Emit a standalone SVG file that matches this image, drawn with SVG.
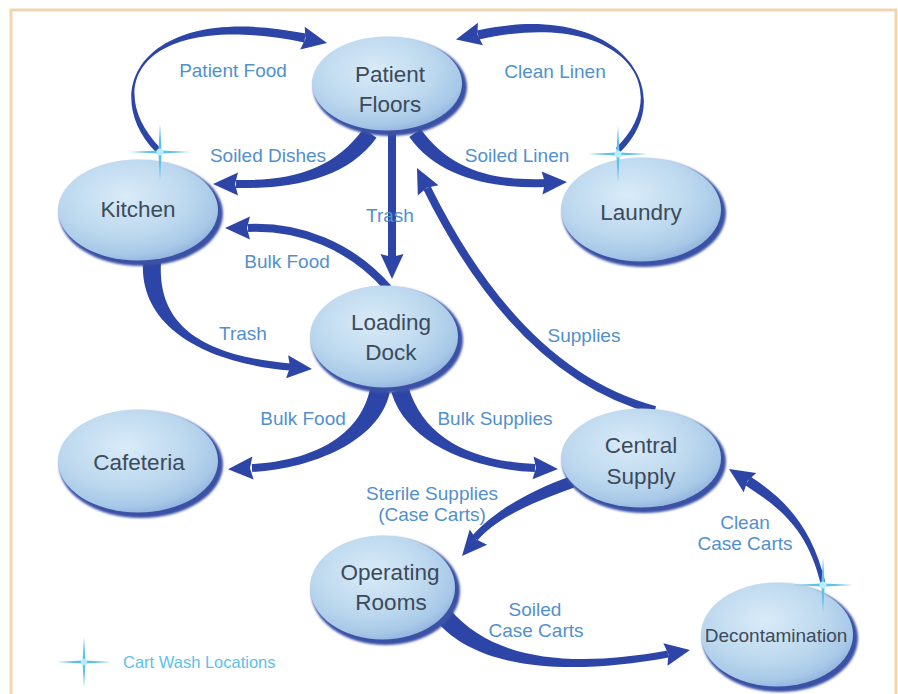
<svg xmlns="http://www.w3.org/2000/svg" width="898" height="694" viewBox="0 0 898 694">
<defs>
<radialGradient id="face" cx="0.42" cy="0.36" r="0.66">
<stop offset="0" stop-color="#d9ebf8"/>
<stop offset="0.6" stop-color="#bcd8ee"/>
<stop offset="0.88" stop-color="#a7c8e7"/>
<stop offset="1" stop-color="#94b6df"/>
</radialGradient>
<filter id="soft" x="-10%" y="-10%" width="120%" height="120%"><feGaussianBlur stdDeviation="1.2"/></filter>
<path id="head" d="M0,0 L-25,-11.5 L-22,0 L-25,11.5 Z"/>
<g id="star">
<path d="M0,-28 L1.6,-1.6 L30,0 L1.6,1.6 L0,28 L-1.6,1.6 L-30,0 L-1.6,-1.6 Z" fill="#5cc2ea"/>
<circle r="3.5" fill="#b8ecff"/>
</g>
<style>
.rim{fill:#3a51a5;filter:url(#soft)}
.face{fill:url(#face)}
.nt{font-family:"Liberation Sans",Arial,sans-serif;font-size:22.5px;fill:#3c4a5b;text-anchor:middle}
.lb{font-family:"Liberation Sans",Arial,sans-serif;font-size:19px;fill:#5290cd;text-anchor:middle}
.arr{fill:#2c45a6}
.arrs{fill:none;stroke:#2c45a6;stroke-width:8}
</style>
</defs>
<rect x="0" y="0" width="898" height="694" fill="#ffffff"/>
<rect x="11" y="10" width="885" height="700" fill="#ffffff" stroke="#efd6b0" stroke-width="3"/>

<g id="connectors">
<path class="arr" d="M160.2,147.9 C102.2,87.9 139.1,9.4 304.1,42.4 L305.9,33.6 C140.9,0.6 97.8,92.1 155.8,152.1 Z"/>
<use href="#head" class="arr" transform="translate(327,43) rotate(11.3)"/>
<path class="arr" d="M363.5,128.4 C333.5,170.4 290.1,181 236.1,180 L235.9,188 C289.9,189 346.5,179.7 376.5,137.7 Z"/>
<use href="#head" class="arr" transform="translate(213,184) rotate(180)"/>
<path class="arr" d="M620.1,152.2 C682.1,92.2 619,-1.4 477,30.6 L479,39.4 C621,7.4 677.9,87.9 615.9,147.9 Z"/>
<use href="#head" class="arr" transform="translate(456,39.5) rotate(167.3)"/>
<path class="arr" d="M409.3,137.1 C439.3,179.1 495.2,189 546.2,187 L545.8,179 C494.8,181 450.7,170.9 420.7,128.9 Z"/>
<use href="#head" class="arr" transform="translate(567,182) rotate(-2.2)"/>
<rect class="arr" x="388" y="130" width="8" height="128"/>
<use href="#head" class="arr" transform="translate(392,279) rotate(90)"/>
<path class="arrs" d="M388,288 C350,245 300,226 248,228"/>
<use href="#head" class="arr" transform="translate(225,228) rotate(180)"/>
<path class="arr" d="M143,261.5 C139,329.5 209.7,363.5 289.7,370.5 L290.3,363.5 C210.3,356.5 157,330.5 161,262.5 Z"/>
<use href="#head" class="arr" transform="translate(312,369) rotate(5)"/>
<path class="arr" d="M370.2,388 C360.2,438 309.8,461 251.8,464 L252.2,472 C310.2,469 379.8,442 389.8,392 Z"/>
<use href="#head" class="arr" transform="translate(228,469.2) rotate(177)"/>
<path class="arr" d="M391.4,392.6 C406.4,442.6 469.8,469 534.8,472 L535.2,464 C470.2,461 423.6,437.4 408.6,387.4 Z"/>
<use href="#head" class="arr" transform="translate(558,469) rotate(2.6)"/>
<path class="arrs" d="M655,410 C560,385 485,305 427,188"/>
<use href="#head" class="arr" transform="translate(417,168) rotate(-116.4)"/>
<path class="arr" d="M569.8,476.4 C527.8,491.4 492.4,512.7 472.4,535.7 L477.6,540.3 C497.6,517.3 532.2,502.6 574.2,487.6 Z"/>
<use href="#head" class="arr" transform="translate(462,556) rotate(131)"/>
<path class="arr" d="M436.1,620.7 C478.1,670.7 570.6,675.4 668.6,657.4 L667.4,650.6 C569.4,668.6 491.9,659.3 450,609.3 Z"/>
<use href="#head" class="arr" transform="translate(690,650) rotate(-10.4)"/>
<path class="arr" d="M825.4,582.4 C812.4,529.4 787.7,500.8 750.7,476.8 L745.3,485.2 C782.3,509.2 807.6,530.6 820.6,583.6 Z"/>
<use href="#head" class="arr" transform="translate(729,469) rotate(-147)"/>
</g>

<g id="edge-labels">
<text class="lb" x="233" y="77">Patient Food</text>
<text class="lb" x="268" y="162">Soiled Dishes</text>
<text class="lb" x="555" y="78">Clean Linen</text>
<text class="lb" x="517" y="162">Soiled Linen</text>
<text class="lb" x="390" y="222">Trash</text>
<text class="lb" x="287" y="268">Bulk Food</text>
<text class="lb" x="243" y="340">Trash</text>
<text class="lb" x="584" y="342">Supplies</text>
<text class="lb" x="303" y="425">Bulk Food</text>
<text class="lb" x="495" y="425">Bulk Supplies</text>
<text class="lb" x="432" y="500">Sterile Supplies</text>
<text class="lb" x="432" y="521">(Case Carts)</text>
<text class="lb" x="745" y="529">Clean</text>
<text class="lb" x="745" y="550">Case Carts</text>
<text class="lb" x="535" y="616">Soiled</text>
<text class="lb" x="536" y="637">Case Carts</text>
</g>

<g id="patient-floors">
<ellipse class="rim" cx="390" cy="87" rx="77" ry="49"/>
<ellipse class="face" cx="387" cy="83.5" rx="75" ry="47"/>
<text class="nt" x="390" y="82">Patient</text>
<text class="nt" x="390" y="112">Floors</text>
</g>
<g id="kitchen">
<ellipse class="rim" cx="141" cy="213.5" rx="82" ry="52.5"/>
<ellipse class="face" cx="138" cy="210" rx="80" ry="50.5"/>
<text class="nt" x="138" y="217">Kitchen</text>
</g>
<g id="laundry">
<ellipse class="rim" cx="644" cy="213" rx="82" ry="54"/>
<ellipse class="face" cx="641" cy="209.5" rx="80" ry="52"/>
<text class="nt" x="641" y="220">Laundry</text>
</g>
<g id="loading-dock">
<ellipse class="rim" cx="387" cy="340" rx="76" ry="53"/>
<ellipse class="face" cx="384" cy="336.5" rx="74" ry="51"/>
<text class="nt" x="391" y="330">Loading</text>
<text class="nt" x="391" y="360">Dock</text>
</g>
<g id="cafeteria">
<ellipse class="rim" cx="141" cy="464.5" rx="82" ry="53.5"/>
<ellipse class="face" cx="138" cy="461" rx="80" ry="51.5"/>
<text class="nt" x="139" y="470">Cafeteria</text>
</g>
<g id="central-supply">
<ellipse class="rim" cx="644" cy="461.5" rx="82" ry="51.5"/>
<ellipse class="face" cx="641" cy="458" rx="80" ry="49.5"/>
<text class="nt" x="641" y="453">Central</text>
<text class="nt" x="641" y="484">Supply</text>
</g>
<g id="operating-rooms">
<ellipse class="rim" cx="385.5" cy="591" rx="74.5" ry="54"/>
<ellipse class="face" cx="382.5" cy="587.5" rx="72.5" ry="52"/>
<text class="nt" x="390" y="580">Operating</text>
<text class="nt" x="391" y="610">Rooms</text>
</g>
<g id="decontamination">
<ellipse class="rim" cx="780" cy="638" rx="78" ry="54"/>
<ellipse class="face" cx="777" cy="634.5" rx="76" ry="52"/>
<text class="nt" x="776" y="642" style="font-size:19px">Decontamination</text>
</g>

<g id="cart-wash-locations">
<use href="#star" transform="translate(160,152)"/>
<use href="#star" transform="translate(618,154)"/>
<use href="#star" transform="translate(823,585)"/>
</g>
<g id="legend">
<use href="#star" transform="translate(84,662) scale(0.9)"/>
<text x="123" y="668" style="font-family:'Liberation Sans',Arial,sans-serif;font-size:16.5px;fill:#5bc2ea">Cart Wash Locations</text>
</g>
</svg>
